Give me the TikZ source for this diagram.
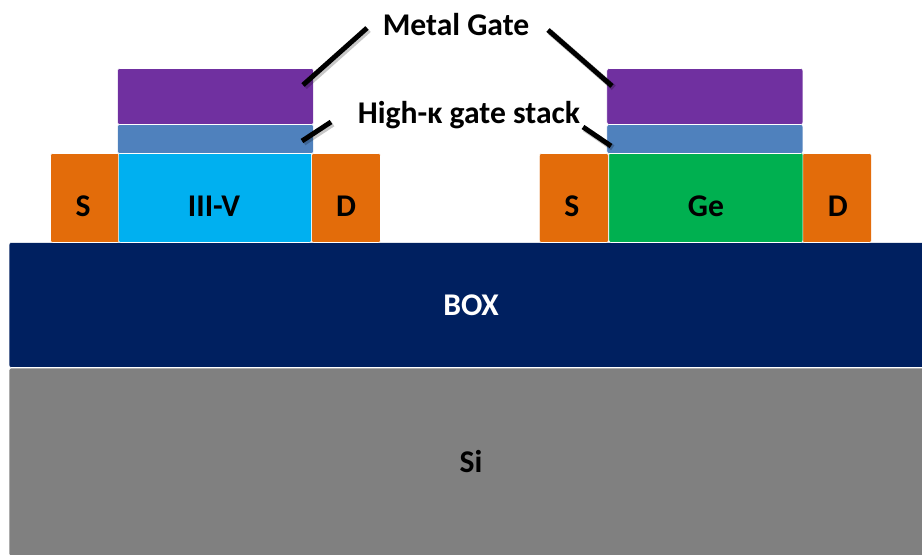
\documentclass[tikz,border=0pt]{standalone}
\usepackage{fontspec}
\setmainfont{Carlito}
\definecolor{metalc}{RGB}{112,48,160}
\definecolor{stackc}{RGB}{79,129,189}
\definecolor{contactc}{RGB}{227,108,10}
\definecolor{iiivc}{RGB}{0,176,240}
\definecolor{gec}{RGB}{0,176,80}
\definecolor{boxc}{RGB}{0,32,96}
\tikzset{layer/.style={rounded corners=1.2pt, draw=white, line width=0.3pt, inner sep=0pt, outer sep=0pt, font=\bfseries\fontsize{18}{20}\selectfont},
         contact/.style={layer, fill=contactc, minimum width=1.38cm, minimum height=1.78cm},
         gatelayer/.style={layer, minimum width=3.92cm},
         tag/.style={inner sep=0pt, font=\bfseries\fontsize{18}{20}\selectfont},
         leader/.style={black, line width=2.8pt, preaction={draw=black, opacity=0.22, line width=3.4pt, transform canvas={shift={(1pt,-1pt)}}}}}

\begin{document}
\begin{tikzpicture}[x=0.02cm,y=-0.02cm]
   \clip[use as bounding box] (0,0) rectangle (922,554);
   % substrate
   \node[layer,fill=gray,minimum width=18.48cm,minimum height=3.76cm] (si) at (471,462) {Si};
   \node[layer,fill=boxc,text=white,minimum width=18.48cm,minimum height=2.5cm] (box) at (471,305) {BOX};
   % left device
   \begin{scope}
    \node[contact] (sl) at (85,198) {};
    \node[contact] (dl) at (346,198) {};
    \node[layer,fill=iiivc,minimum width=3.86cm,minimum height=1.8cm] (chl) at (215,197.5) {};
    \node[gatelayer,fill=stackc,minimum height=0.58cm] (hkl) at (215.5,139) {};
    \node[gatelayer,fill=metalc,minimum height=1.12cm] (mgl) at (215.5,96.5) {};
    \node[tag] (sltxt) at (83,206) {S};
    \node[tag] (dltxt) at (346,206) {D};
    \node[tag] (chltxt) at (214,206) {III-V};
   \end{scope}
   % right device
   \begin{scope}[xshift=9.78cm]
    \node[contact] (sr) at (85,198) {};
    \node[contact] (dr) at (348,198) {};
    \node[layer,fill=gec,minimum width=3.88cm,minimum height=1.8cm] (chr) at (217,197.5) {};
    \node[gatelayer,fill=stackc,minimum height=0.58cm] (hkr) at (216,139) {};
    \node[gatelayer,fill=metalc,minimum height=1.12cm] (mgr) at (216,96.5) {};
    \node[tag] (srtxt) at (83,206) {S};
    \node[tag] (drtxt) at (349,206) {D};
    \node[tag] (chrtxt) at (217,206) {Ge};
   \end{scope}
   % labels
   \node[tag] (metal) at (456,25) {Metal Gate};
   \node[tag] (highk) at (469,115) {High-κ gate stack};
   % leaders
   \coordinate (ml) at (367,28);
   \coordinate (mlend) at (303,85);
   \coordinate (mr) at (548,30);
   \coordinate (mrend) at (612,86);
   \coordinate (hl) at (331,122);
   \coordinate (hlend) at (302,141);
   \coordinate (hr) at (583,127);
   \coordinate (hrend) at (611,146);
   \draw[leader] (ml) -- (mlend);
   \draw[leader] (mr) -- (mrend);
   \draw[leader] (hl) -- (hlend);
   \draw[leader] (hr) -- (hrend);
\end{tikzpicture}
\end{document}
